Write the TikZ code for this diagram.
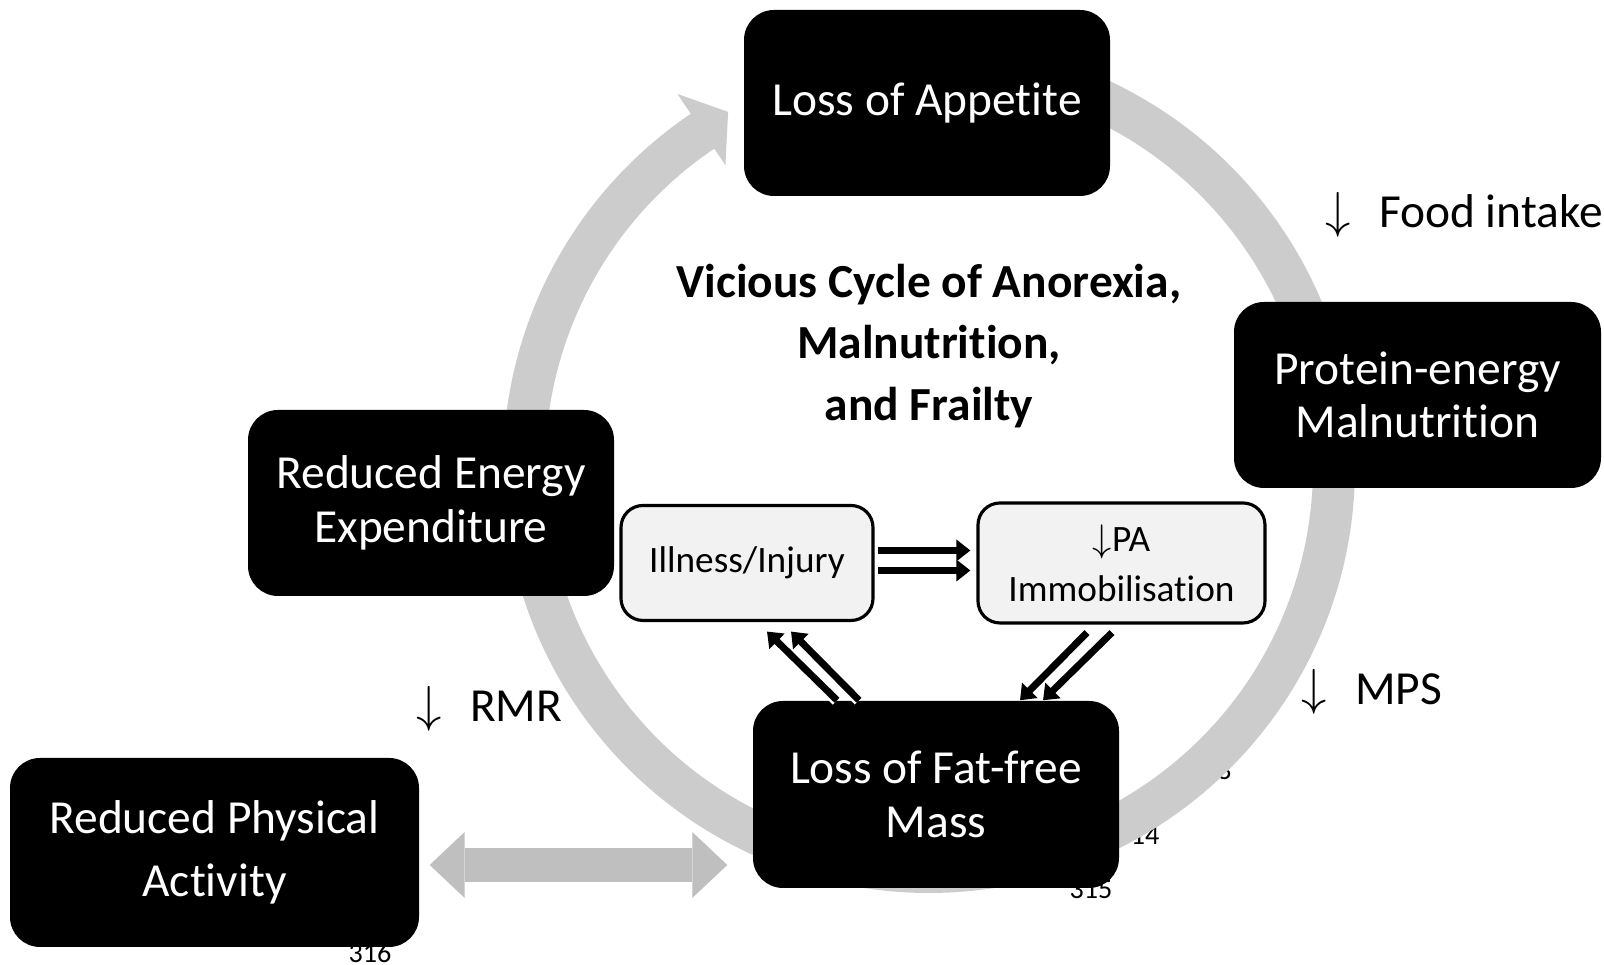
\documentclass[tikz,border=0pt]{standalone}
\usepackage{fontspec}
\setmainfont{Carlito}[Ligatures={NoCommon,NoContextual}]
\usetikzlibrary{arrows.meta,calc}

\begin{document}
\begin{tikzpicture}[
  darkbox/.style={fill=black, text=white, rounded corners=0.3cm, minimum width=3.66cm,
    minimum height=1.86cm, align=center, inner sep=0pt, font=\fontsize{13.5}{15.2}\selectfont},
  lightbox/.style={draw=black, line width=0.9pt, fill=black!5, rounded corners=0.22cm,
    align=center, inner sep=0pt, font=\fontsize{10.6}{14.2}\selectfont},
  blackarrow/.style={line width=0.07cm, -{Triangle[length=0.14cm,width=0.21cm]},
    preaction={draw=white, line width=0.12cm}},
  greyarrow/.style={draw=black!25, line width=0.34cm,
    {Triangle[length=0.35cm,width=0.66cm,line width=0pt]}-{Triangle[length=0.35cm,width=0.66cm,line width=0pt]}},
  lbl/.style={anchor=west, inner sep=0pt, font=\fontsize{13.5}{16}\selectfont},
  linenum/.style={inner sep=0pt, font=\fontsize{8}{9}\selectfont}
]
\useasboundingbox (0,0) rectangle (16.04,9.65);

% Line numbers (partly hidden behind the ring and boxes)
\node[linenum] (n313) at (12.10,1.95) {313};
\node[linenum] (n314) at (11.38,1.30) {314};
\node[linenum] (n315) at (10.91,0.76) {315};
\node[linenum] (n316) at (3.70,0.12) {316};

% Define center and radii of the ring
\def\cx{9.29}
\def\cy{4.98}
\def\outerR{4.26}
\def\innerR{3.84}
\coordinate (ctr) at (\cx,\cy);

% Grey ring with arrow head
\fill[black!20] ($(ctr)+(90:\outerR)$) arc[start angle=90, end angle=-236, radius=\outerR]
  -- ($(ctr)+(124:4.50)$) -- ($(ctr)+(119.5:4.08)$) -- ($(ctr)+(124:3.64)$)
  -- ($(ctr)+(124:\innerR)$) arc[start angle=-236, end angle=90, radius=\innerR] -- cycle;

% Main boxes
\node[darkbox] (appetite) at (9.27,8.62) {Loss of Appetite};
\node[darkbox, minimum width=3.67cm] (protein) at (14.175,5.70) {Protein-energy\\Malnutrition};
\node[darkbox] (energy) at (4.31,4.62) {Reduced Energy\\Expenditure};
\node[darkbox, minimum width=4.09cm, minimum height=1.89cm,
  font=\fontsize{13.5}{17.9}\selectfont] (physical) at (2.145,1.125) {Reduced Physical\\Activity};
\node[darkbox, minimum height=1.87cm] (fatfree) at (9.36,1.705) {Loss of Fat-free\\Mass};

% Title
\node[font=\bfseries\fontsize{13.5}{17.6}\selectfont, align=center] (title) at (9.29,6.19)
  {Vicious Cycle of Anorexia,\\Malnutrition,\\and Frailty};

% Inner boxes
\node[lightbox, minimum width=2.52cm, minimum height=1.15cm] (illness) at (7.47,4.02) {Illness/Injury};
\node[lightbox, minimum width=2.87cm, minimum height=1.20cm] (pa) at (11.215,4.02) {$\downarrow$PA\\Immobilisation};

% Black arrows
\draw[blackarrow, shorten <=0.03cm, shorten >=0.06cm] ([yshift=0.125cm]illness.east) -- ([yshift=0.125cm]pa.west);
\draw[blackarrow, shorten <=0.03cm, shorten >=0.06cm] ([yshift=-0.075cm]illness.east) -- ([yshift=-0.075cm]pa.west);
\draw[blackarrow] ([xshift=-0.99cm]fatfree.north) -- ([shift={(0.20,-0.095)}]illness.south);
\draw[blackarrow] ([xshift=-0.77cm]fatfree.north) -- ([shift={(0.44,-0.095)}]illness.south);
\draw[blackarrow] ([shift={(-0.345,-0.08)}]pa.south) -- ([xshift=0.84cm]fatfree.north);
\draw[blackarrow] ([shift={(-0.095,-0.08)}]pa.south) -- ([xshift=1.07cm]fatfree.north);

% Double grey arrow
\draw[greyarrow] ([shift={(0.1,-0.125)}]physical.east) -- ([shift={(-0.25,-0.705)}]fatfree.west);

% Labels
\node[lbl] (food) at (13.25,7.50) {$\downarrow$\hspace{0.28cm}Food intake};
\node[lbl] (mps) at (13.01,2.73) {$\downarrow$\hspace{0.28cm}MPS};
\node[lbl] (rmr) at (4.16,2.56) {$\downarrow$\hspace{0.28cm}RMR};

\end{tikzpicture}
\end{document}
